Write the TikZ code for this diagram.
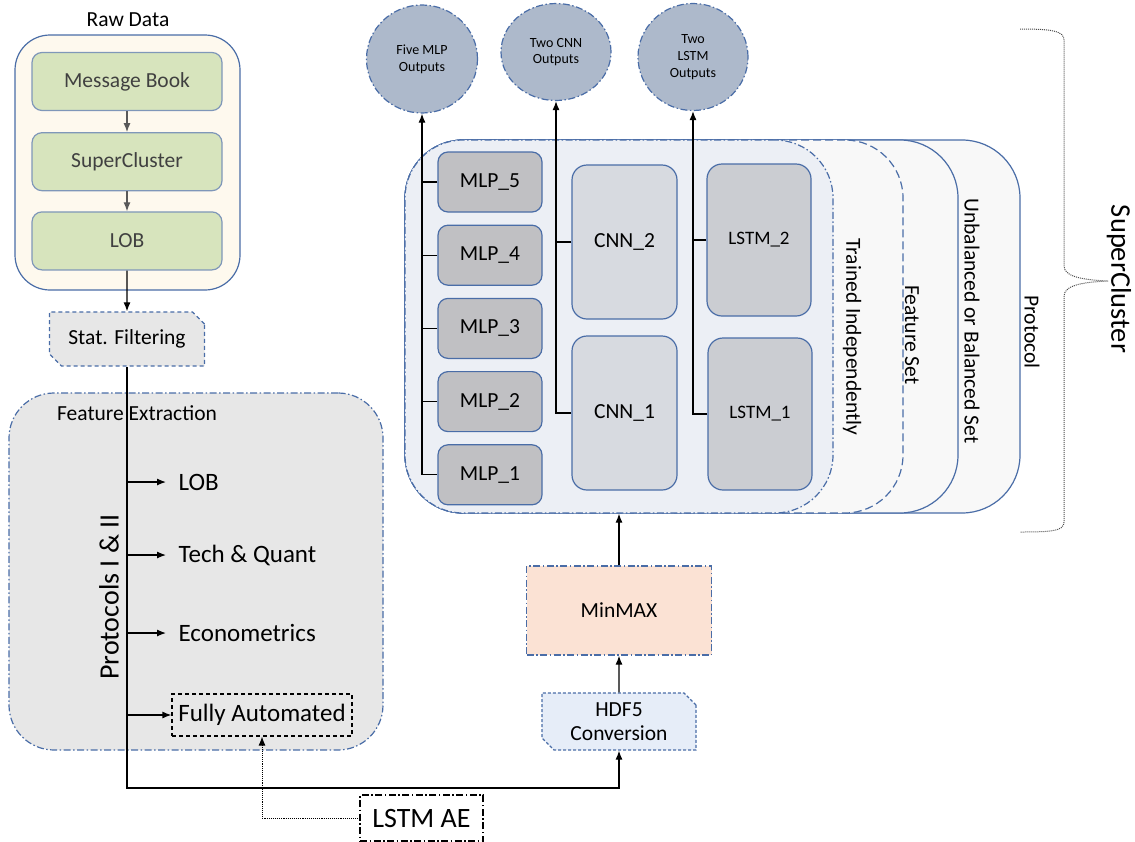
\documentclass[tikz,border=0pt]{standalone}
\usepackage{fontspec}
\setmainfont{Carlito}
\usepackage{tikz}
\usetikzlibrary{shapes.geometric, shapes.misc, positioning, arrows.meta}

\definecolor{edgeblue}{HTML}{4A6DA7}
\definecolor{softblue}{HTML}{7F97B9}
\definecolor{cream}{HTML}{FEF9EE}
\definecolor{leaf}{HTML}{D7E4BD}
\definecolor{panel}{HTML}{E7E7E7}
\definecolor{mlpgray}{HTML}{C0C0C3}
\definecolor{cnngray}{HTML}{D7DAE0}
\definecolor{lstmgray}{HTML}{CBCDD2}
\definecolor{slate}{HTML}{ADB9CB}
\definecolor{peach}{HTML}{FBE2D4}
\definecolor{ice}{HTML}{E6EDF8}
\definecolor{haze}{HTML}{ECEFF5}
\definecolor{mist}{HTML}{F8F8F8}

\newcommand{\fsz}[1]{\fontsize{#1}{1.2\dimexpr#1pt\relax}\selectfont}

\begin{document}
\begin{tikzpicture}[x=1pt, y=-1pt, line width=1.2pt, >={Latex[length=9pt,width=7pt]},
    every node/.style = {font=\fsz{21.5}},
    dashdot/.style = {dash pattern=on 7pt off 2.5pt on 1.5pt off 2.5pt},
    longdash/.style = {dash pattern=on 8pt off 4pt},
    shortdash/.style = {dash pattern=on 4pt off 3pt},
    rawbox/.style = {draw=softblue, fill=leaf, rounded corners=10pt, minimum width=190pt, minimum height=58pt, text=black!75},
    chamfer/.style = {chamfered rectangle, chamfered rectangle corners={north east, south west}, chamfered rectangle xsep=6pt, chamfered rectangle ysep=6pt, draw=edgeblue},
    mlpbox/.style = {draw=edgeblue, fill=mlpgray, rounded corners=10pt, minimum width=104pt, minimum height=60pt},
    cnnbox/.style = {draw=edgeblue, fill=cnngray, rounded corners=15pt, minimum width=105pt, minimum height=154pt},
    lstmbox/.style = {draw=edgeblue, fill=lstmgray, rounded corners=15pt, minimum width=104pt, minimum height=152pt, font=\fsz{19}},
    outbox/.style = {ellipse, draw=edgeblue, fill=slate, dashdot, align=center, font=\fsz{14}, inner sep=0pt},
    stackbox/.style = {rounded corners=58pt, minimum height=373pt, fill=mist, draw=edgeblue},
    sidelabel/.style = {rotate=-90},
    featlabel/.style = {anchor=west, inner xsep=12pt, font=\fsz{25}}]

    \useasboundingbox (0,0) rectangle (1135,841);

    % raw data
    \node (rawtitle) at (128,20) {Raw Data};
    \node[draw=edgeblue, fill=cream, rounded corners=35pt, minimum width=225pt, minimum height=255pt] (raw) at (127.5,162.5) {};
    \node[rawbox] (msg) at (127,81.5) {Message Book};
    \node[rawbox] (sc) [below=21pt of msg] {SuperCluster};
    \node[rawbox] (lob) [below=20pt of sc] {LOB};
    \draw[->, black!65] (msg) -- (sc);
    \draw[->, black!65] (sc) -- (lob);

    \node[chamfer, shortdash, fill=panel, minimum width=155pt, minimum height=54pt] (stat) at (127,339) {Stat. Filtering};
    \draw[->] (lob) -- (stat);

    % feature extraction
    \node[draw=edgeblue, fill=panel, dashdot, rounded corners=45pt, minimum width=374pt, minimum height=357pt] (featbox) at (196,571.5) {};
    \node (feattitle) at (137,413) {Feature Extraction};
    \node[featlabel] (flob) at (166,482) {LOB};
    \node[featlabel] (ftech) at (166,555) {Tech \& Quant};
    \node[featlabel] (fecon) at (166,633) {Econometrics};
    \node[draw, shortdash, font=\fsz{25}, minimum width=180pt, minimum height=42pt] (fauto) at (262,715) {Fully Automated};
    \node[rotate=90, font=\fsz{28}] (protocols) at (109,597) {Protocols I \& II};

    % normalisation
    \node[chamfer, dash pattern=on 3pt off 2pt, fill=ice, align=center, minimum width=154pt, minimum height=57pt, inner sep=2pt] (hdf) at (619,721.5) {HDF5\\[-2pt]Conversion};
    \node[draw=edgeblue, fill=peach, dashdot, minimum width=185pt, minimum height=89pt] (minmax) at (619,610.5) {MinMAX};
    \node[draw, dashdot, font=\fsz{28}, minimum width=123pt, minimum height=46pt] (lstmae) at (421.5,818) {LSTM AE};

    \coordinate (turn) at (127,788);
    \draw[->] (stat.south) -- (turn) -| (hdf.south);
    \draw[->] (stat.south |- flob.west) -- (flob.west);
    \draw[->] (stat.south |- ftech.west) -- (ftech.west);
    \draw[->] (stat.south |- fecon.west) -- (fecon.west);
    \draw[->] (stat.south |- fauto.west) -- (fauto.west);
    \draw[->, densely dotted, line width=0.9pt] (lstmae.west) -| (fauto.south);
    \draw[->] (hdf) -- (minmax);

    % stacked training sets
    \node[stackbox, minimum width=615pt] (protoset) at (712.5,326.5) {};
    \node[stackbox, minimum width=553pt] (balset) at (681.5,326.5) {};
    \node[stackbox, longdash, minimum width=498pt] (featset) at (654,326.5) {};
    \node[stackbox, dashdot, fill=haze, minimum width=428pt] (trainset) at (619,326.5) {};
    \draw[->] (minmax) -- (trainset);

    \node[sidelabel] (trainlabel) at (852,337) {Trained Independently};
    \node[sidelabel] (featlabel) at (912,335) {Feature Set};
    \node[sidelabel] (ballabel) at (972,321) {Unbalanced or Balanced Set};
    \node[sidelabel] (protolabel) at (1032,332) {Protocol};

    % models
    \node[mlpbox] (mlp5) at (490,182) {MLP\_5};
    \node[mlpbox] (mlp4) [below=12pt of mlp5] {MLP\_4};
    \node[mlpbox] (mlp3) [below=12pt of mlp4] {MLP\_3};
    \node[mlpbox] (mlp2) [below=12pt of mlp3] {MLP\_2};
    \node[mlpbox] (mlp1) [below=12pt of mlp2] {MLP\_1};
    \node[cnnbox] (cnn2) at (624.5,242) {CNN\_2};
    \node[cnnbox] (cnn1) at (624.5,413) {CNN\_1};
    \node[lstmbox] (lstm2) at (759,240) {LSTM\_2};
    \node[lstmbox] (lstm1) at (760,414) {LSTM\_1};

    % outputs
    \node[outbox, minimum width=111pt, minimum height=108pt] (mlpout) at (422,59) {Five MLP\\Outputs};
    \node[outbox, minimum width=110pt, minimum height=97pt] (cnnout) at (556,52) {Two CNN\\Outputs};
    \node[outbox, minimum width=110pt, minimum height=107pt] (lstmout) at (693,57) {Two\\LSTM\\Outputs};

    \draw[->] (mlp1.west) -| (mlpout.south);
    \foreach \k in {2,...,5}
        \draw (mlp\k.west) -- (mlp\k.west -| mlpout.south);
    \draw[->] (cnn1.west) -| (cnnout.south);
    \draw (cnn2.west) -- (cnn2.west -| cnnout.south);
    \draw[->] (lstm1.west) -| (lstmout.south);
    \draw (lstm2.west) -- (lstm2.west -| lstmout.south);

    % brace
    \draw[black!70, densely dotted, line width=1pt] (1020,29) .. controls (1052,29) and (1064,31) .. (1064,40)
        -- (1064,266) .. controls (1064,278) and (1088,280) .. (1108,281)
        .. controls (1088,282) and (1064,284) .. (1064,296)
        -- (1064,522) .. controls (1064,531) and (1052,532) .. (1020,532);
    \node[rotate=-90, font=\fsz{28.5}] (superlabel) at (1119,279) {SuperCluster};
\end{tikzpicture}
\end{document}
